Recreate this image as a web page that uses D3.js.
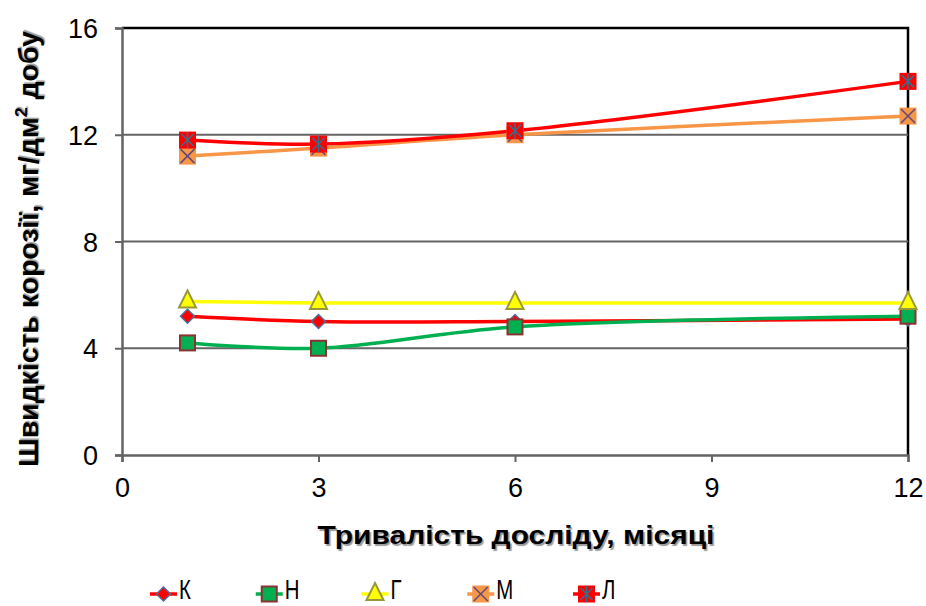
<!DOCTYPE html>
<html>
<head>
<meta charset="utf-8">
<script src="https://cdn.jsdelivr.net/npm/d3@7"></script>
<style>
  body { margin: 0; background: #fff; }
  text { font-family: "Liberation Sans", Arial, sans-serif; }
</style>
</head>
<body>
<div id="chart"></div>
<script>
const months = [1, 3, 6, 12];
const seriesNames = ["К", "Н", "Г", "М", "Л"];
const valuesK = [5.2, 5.0, 5.0, 5.1];
const valuesN = [4.2, 4.0, 4.8, 5.2];
const valuesG = [5.75, 5.7, 5.7, 5.7];
const valuesM = [11.2, 11.5, 12.0, 12.7];
const valuesL = [11.8, 11.65, 12.15, 14.0];
const xTicks = [0, 3, 6, 9, 12];
const yTicks = [0, 4, 8, 12, 16];

const width = 926, height = 606;
const margin = {top: 28, right: 18, bottom: 151, left: 122};

const svg = d3.select("#chart").append("svg")
    .attr("width", width)
    .attr("height", height);

const x = d3.scaleLinear().domain([0, 12]).range([margin.left, width - margin.right]);
const y = d3.scaleLinear().domain([0, 16]).range([height - margin.bottom, margin.top]);

// stretch a text along its own direction to a wanted length
function fitLength(sel, cx, cy, len, angle) {
    const w = sel.node().getBBox().width;
    sel.attr("transform", `translate(${cx},${cy}) rotate(${angle}) scale(${len / w},1)`);
}

// plot border (top + right black)
svg.append("path")
    .attr("d", `M${x(0)},${y(16)}H${x(12)}V${y(0)}`)
    .attr("fill", "none")
    .attr("stroke", "#000")
    .attr("stroke-width", 2.5);

// gridlines
svg.append("g")
    .selectAll("line")
    .data(yTicks.filter(d => d > 0 && d < 16))
    .join("line")
    .attr("x1", x(0)).attr("x2", x(12))
    .attr("y1", d => y(d)).attr("y2", d => y(d))
    .attr("stroke", "#646464")
    .attr("stroke-width", 2);

// axes
const yAxis = svg.append("g")
    .attr("transform", `translate(${x(0)},0)`)
    .call(d3.axisLeft(y).tickValues(yTicks).tickSize(7).tickPadding(17));
const xAxis = svg.append("g")
    .attr("transform", `translate(0,${y(0)})`)
    .call(d3.axisBottom(x).tickValues(xTicks).tickSize(7).tickPadding(17));

[xAxis, yAxis].forEach(a => {
    a.select(".domain").attr("stroke", "#646464").attr("stroke-width", 2.5);
    a.selectAll(".tick line").attr("stroke", "#646464").attr("stroke-width", 2);
    a.selectAll(".tick text")
        .attr("fill", "#000")
        .style("font-size", "27px")
        .style("font-family", "'Liberation Sans', Arial, sans-serif");
});
xAxis.selectAll(".tick text").attr("dy", "0.68em");
yAxis.selectAll(".tick text").attr("dy", "0.36em");

// axis titles
const yTitle = svg.append("text")
    .attr("text-anchor", "middle")
    .attr("dy", "0.36em")
    .style("font-size", "27px")
    .style("font-weight", "bold")
    .style("text-shadow", "1.5px 1.5px 1px #999")
    .html("Швидкість корозії, мг/дм<tspan dy='-11' font-size='17px'>2</tspan><tspan dy='11'> добу</tspan>");
fitLength(yTitle, 28, 249, 436, -90);

const xTitle = svg.append("text")
    .attr("text-anchor", "middle")
    .attr("dy", "0.36em")
    .style("font-size", "26px")
    .style("font-weight", "bold")
    .style("text-shadow", "1.5px 1.5px 1px #999")
    .text("Тривалість досліду, місяці");
fitLength(xTitle, 516, 535, 397, 0);

const series = [
    {name: seriesNames[0], values: valuesK, color: "#ff0000", marker: "diamond", fill: "#ff0000", stroke: "#4f6d9a"},
    {name: seriesNames[1], values: valuesN, color: "#00b050", marker: "square", fill: "#00b050", stroke: "#8b3333"},
    {name: seriesNames[2], values: valuesG, color: "#ffff00", marker: "triangle", fill: "#ffff00", stroke: "#98983a"},
    {name: seriesNames[3], values: valuesM, color: "#f79646", marker: "cross", fill: "#f79646", stroke: "#604a7b"},
    {name: seriesNames[4], values: valuesL, color: "#ff0000", marker: "star", fill: "#ff0000", stroke: "#31708f"}
];

const line = d3.line()
    .x((d, i) => x(months[i]))
    .y(d => y(d))
    .curve(d3.curveCatmullRom.alpha(0.5));

function drawMarker(g, type, fill, stroke) {
    if (type === "diamond") {
        g.append("path").attr("d", "M0,-7L7,0L0,7L-7,0Z")
            .attr("fill", fill).attr("stroke", stroke).attr("stroke-width", 1.5);
    } else if (type === "square") {
        g.append("rect").attr("x", -7.5).attr("y", -7.5).attr("width", 15).attr("height", 15)
            .attr("fill", fill).attr("stroke", stroke).attr("stroke-width", 2);
    } else if (type === "triangle") {
        g.append("path").attr("d", "M0,-11L8.5,6L-8.5,6Z")
            .attr("fill", fill).attr("stroke", stroke).attr("stroke-width", 2);
    } else if (type === "cross") {
        g.append("rect").attr("x", -8.5).attr("y", -8.5).attr("width", 17).attr("height", 17)
            .attr("fill", fill);
        g.append("path").attr("d", "M-7,-7L7,7M-7,7L7,-7")
            .attr("stroke", stroke).attr("stroke-width", 1.5);
    } else if (type === "star") {
        g.append("rect").attr("x", -8.5).attr("y", -8.5).attr("width", 17).attr("height", 17)
            .attr("fill", fill);
        g.append("path").attr("d", "M-6,-6L6,6M-6,6L6,-6M0,-8V8")
            .attr("stroke", stroke).attr("stroke-width", 1.5);
    }
}

series.forEach(s => {
    svg.append("path")
        .datum(s.values)
        .attr("fill", "none")
        .attr("stroke", s.color)
        .attr("stroke-width", 3.5)
        .attr("d", line);
});

series.forEach(s => {
    svg.append("g")
        .selectAll("g")
        .data(s.values)
        .join("g")
        .attr("transform", (d, i) => `translate(${x(months[i])},${y(d)})`)
        .each(function () { drawMarker(d3.select(this), s.marker, s.fill, s.stroke); });
});

// legend
const legendX = d3.scalePoint().domain(seriesNames).range([150, 573]);
const legend = svg.append("g")
    .selectAll("g")
    .data(series)
    .join("g")
    .attr("transform", d => `translate(${legendX(d.name)},594)`);

legend.append("line")
    .attr("x1", 0).attr("x2", 27)
    .attr("stroke", d => d.color)
    .attr("stroke-width", 3.5);
legend.each(function (d) {
    const m = d3.select(this).append("g").attr("transform", "translate(13.5,0)");
    drawMarker(m, d.marker, d.fill, d.stroke);
});
legend.append("text")
    .attr("transform", "translate(29,5) scale(0.85,1.15)")
    .style("font-size", "24px")
    .text(d => d.name);
</script>
</body>
</html>
